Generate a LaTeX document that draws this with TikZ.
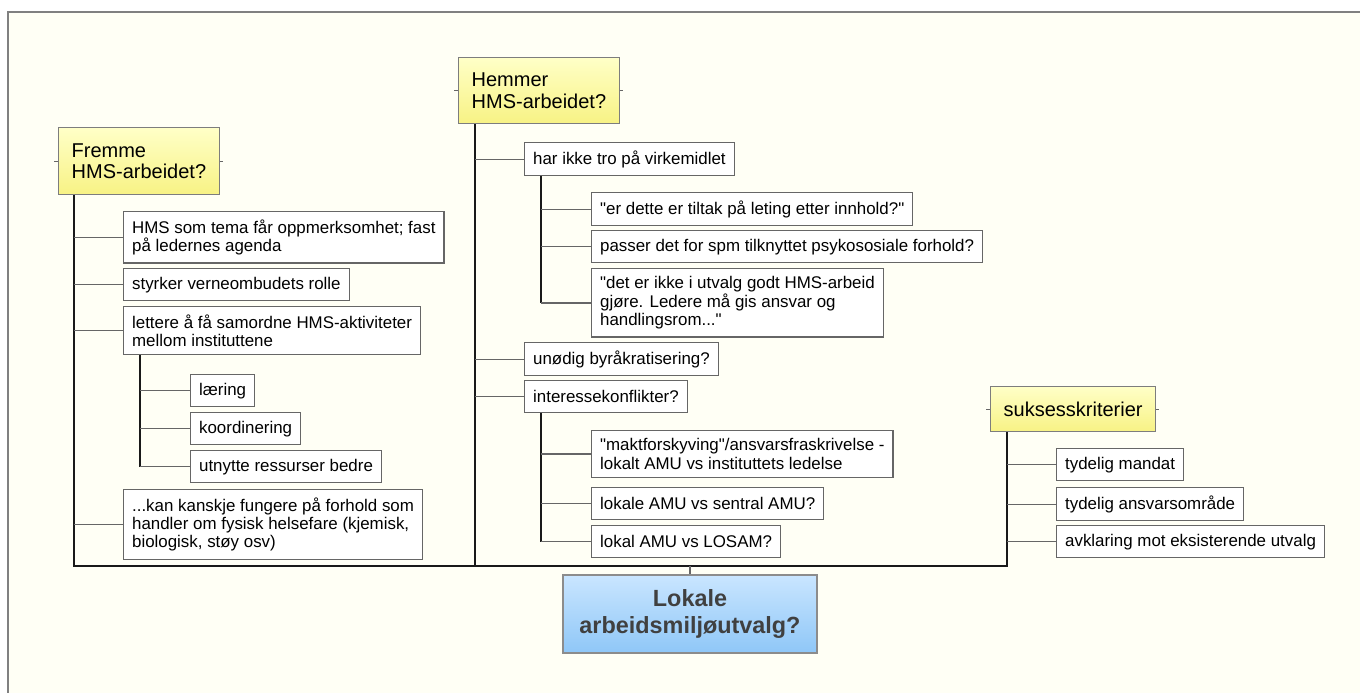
\documentclass[tikz,border=0pt]{standalone}
\usepackage{fontspec}
\setmainfont{Liberation Sans}
\definecolor{paper}{rgb}{1,1,.96}
\definecolor{frame}{rgb}{.5,.5,.5}
\definecolor{edge}{rgb}{.4,.4,.4}
\definecolor{hdtop}{rgb}{1,1,.78}
\definecolor{hdbot}{rgb}{.97,.95,.52}
\definecolor{ctop}{rgb}{.79,.9,1}
\definecolor{cbot}{rgb}{.56,.78,.97}
\newcommand{\qt}{\textquotedbl}

\begin{document}
\begin{tikzpicture}[x=1pt,y=-1pt,
  leaf/.style={draw=edge, line width=1.3pt, fill=white, anchor=north west, align=left,
    inner xsep=8.5pt, inner ysep=8pt, minimum height=32pt, font=\fontsize{16.9}{18.3}\selectfont},
  head/.style={draw=edge!85, line width=1.3pt, top color=hdtop, bottom color=hdbot,
    anchor=north west, align=left, inner xsep=13pt, inner ysep=5pt, font=\fontsize{20}{21.7}\selectfont},
  stem/.style={line width=2pt, black!90},
  twig/.style={line width=1.4pt, edge}]
\useasboundingbox (0,0) rectangle (1360,693);
\fill[white] (0,0) rectangle (1360,693);
\fill[paper] (8,12) rectangle (1360,693);
\draw[frame, line width=1.5pt] (8,693) -- (8,12) -- (1360,12);

% hovedgrener
\node[head, minimum height=67pt] (fremme) at (58,127) {Fremme\\HMS-arbeidet?};
\node[head, minimum height=66pt] (hemmer) at (458,57) {Hemmer\\HMS-arbeidet?};
\node[head, minimum height=45pt] (suksess) at (990,386) {suksesskriterier};
\node[draw=edge!75, line width=1.3pt, top color=ctop, bottom color=cbot, minimum width=254pt,
  minimum height=78pt, align=center, text=black!75,
  font=\bfseries\fontsize{23.4}{26.7}\selectfont] (lokale) at (690,614) {Lokale\\arbeidsmiljøutvalg?};

% fremme
\node[leaf] (hms) at (123,211) {HMS som tema får oppmerksomhet; fast\\på ledernes agenda};
\node[leaf] (styrker) at (123,268) {styrker verneombudets rolle};
\node[leaf] (lettere) at (123,306) {lettere å få samordne HMS-aktiviteter\\mellom instituttene};
\node[leaf] (laering) at (190,374) {læring};
\node[leaf] (koord) at (190,412) {koordinering};
\node[leaf] (utnytte) at (190,450) {utnytte ressurser bedre};
\node[leaf] (kanskje) at (123,489) {...kan kanskje fungere på forhold som\\handler om fysisk helsefare (kjemisk,\\biologisk, støy osv)};

% hemmer
\node[leaf] (tro) at (524,142) {har ikke tro på virkemidlet};
\node[leaf] (innhold) at (591,192) {\qt er dette er tiltak på leting etter innhold?\qt};
\node[leaf] (passer) at (591,230) {passer det for spm tilknyttet psykososiale forhold?};
\node[leaf] (ansvar) at (591,268) {\qt det er ikke i utvalg godt HMS-arbeid\\gjøre. Ledere må gis ansvar og\\handlingsrom...\qt};
\node[leaf] (byrak) at (524,342) {unødig byråkratisering?};
\node[leaf] (konflikt) at (524,380) {interessekonflikter?};
\node[leaf] (makt) at (591,430) {\qt maktforskyving\qt/ansvarsfraskrivelse -\\lokalt AMU vs instituttets ledelse};
\node[leaf] (sentral) at (591,487) {lokale AMU vs sentral AMU?};
\node[leaf] (losam) at (591,525) {lokal AMU vs LOSAM?};

% suksesskriterier
\node[leaf] (mandat) at (1056,448) {tydelig mandat};
\node[leaf] (omraade) at (1056,487) {tydelig ansvarsområde};
\node[leaf] (avklar) at (1056,525) {avklaring mot eksisterende utvalg};

% stammer
\coordinate (bar) at (0,566);
\coordinate (hub) at (lokale.north |- bar);
\coordinate (fstem) at ([xshift=16pt]fremme.south west);
\coordinate (hstem) at ([xshift=17pt]hemmer.south west);
\coordinate (sstem) at ([xshift=17pt]suksess.south west);
\coordinate (lstem) at ([xshift=17pt]lettere.south west);
\coordinate (tstem) at ([xshift=17pt]tro.south west);
\coordinate (kstem) at ([xshift=17pt]konflikt.south west);

\draw[stem] (fstem) |- (hub);
\draw[stem] (sstem) |- (hub);
\draw[stem] (hstem) -- (hstem |- bar);
\draw[line width=2.5pt, edge] (hub) -- (lokale.north);
\draw[stem] (lstem) -- (lstem |- utnytte.west);
\draw[stem] (tstem) -- (tstem |- ansvar.west);
\draw[stem] (kstem) -- (kstem |- losam.west);

\foreach \n in {hms,styrker,lettere,kanskje} \draw[twig] (fstem |- \n.west) -- (\n.west);
\foreach \n in {tro,byrak,konflikt} \draw[twig] (hstem |- \n.west) -- (\n.west);
\foreach \n in {mandat,omraade,avklar} \draw[twig] (sstem |- \n.west) -- (\n.west);
\foreach \n in {laering,koord,utnytte} \draw[twig] (lstem |- \n.west) -- (\n.west);
\foreach \n in {innhold,passer,ansvar} \draw[twig] (tstem |- \n.west) -- (\n.west);
\foreach \n in {makt,sentral,losam} \draw[twig] (kstem |- \n.west) -- (\n.west);

% små merker
\foreach \n in {fremme,hemmer,suksess} {
  \draw[twig, line width=1pt] (\n.west) -- ++(-4,0);
  \draw[twig, line width=1pt] (\n.east) -- ++(3,0);
}
\end{tikzpicture}
\end{document}
